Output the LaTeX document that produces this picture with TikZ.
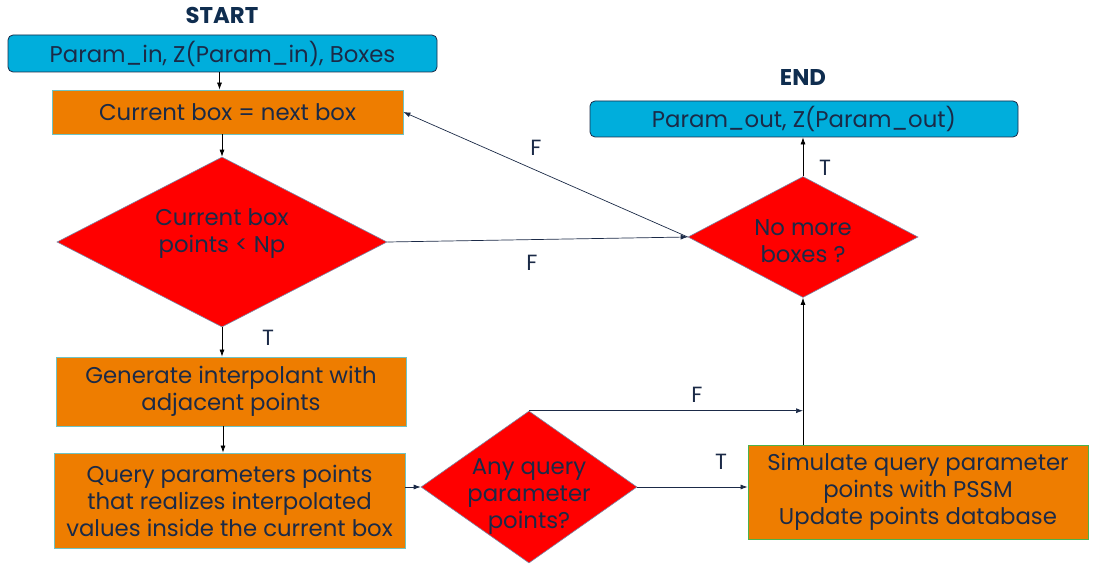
\documentclass[tikz,border=0pt]{standalone}
\usepackage{fontspec}
\setmainfont{Poppins}
\usetikzlibrary{shapes.geometric,arrows.meta}
\definecolor{cyanbox}{HTML}{00AEDC}
\definecolor{orangebox}{HTML}{EE7D00}
\definecolor{navy}{HTML}{1B2A47}
\definecolor{titlecol}{HTML}{0F2D4F}
\definecolor{dred}{HTML}{FF0000}
\definecolor{procborder}{HTML}{6FC3C3}
\definecolor{decborder}{HTML}{7A8AA8}
\begin{document}
\begin{tikzpicture}[x=1pt,y=1pt,
  every node/.style={text=navy},
  base/.style={font=\fontsize{22.8}{27}\selectfont},
  io/.style={base, draw=navy, fill=cyanbox, rounded corners=5pt, line width=0.8pt, inner sep=0},
  proc/.style={base, draw=procborder, fill=orangebox, line width=0.8pt, inner sep=0, align=center},
  dec/.style={diamond, draw=decborder, fill=dred, inner sep=0, line width=0.6pt},
  dectext/.style={base, align=center, inner sep=0},
  ttl/.style={font=\fontsize{22.8}{26}\selectfont\bfseries, text=titlecol},
  lbl/.style={font=\fontsize{22}{24}\selectfont},
  arr/.style={-{Latex[length=7pt,width=5pt]}, line width=0.7pt, draw=black},
  arrn/.style={arr, draw=navy}
]
\useasboundingbox (0,0) rectangle (1096,-567);

\node[ttl] (starttitle) at (222,-15) {START};
\node[io, minimum width=429, minimum height=37] (startbox) at (222.5,-53.5) {Param\_in, Z(Param\_in), Boxes};
\node[proc, minimum width=351, minimum height=44] (cur) at (227.5,-112) {Current box = next box};
\node[dec, minimum width=330, minimum height=170] (d1) at (222,-242) {};
\node[dectext] (d1t) at (222,-234) {Current box\\points < Np};
\node[dec, minimum width=230, minimum height=121] (d2) at (803,-237) {};
\node[dectext] (d2t) at (803,-241) {No more\\boxes ?};
\node[ttl] (endtitle) at (803,-77) {END};
\node[io, minimum width=428, minimum height=36] (endbox) at (804,-119) {Param\_out, Z(Param\_out)};
\node[proc, minimum width=350, minimum height=69] (gen) at (231,-391.5) {Generate interpolant with\\adjacent points};
\node[proc, minimum width=351, minimum height=95] (query) at (229.5,-500.5) {Query parameters points\\that realizes interpolated\\values inside the current box};
\node[dec, minimum width=216, minimum height=152] (d3) at (529,-487) {};
\node[dectext] (d3t) at (529,-497) {Any query\\parameter\\points?};
\node[proc, minimum width=340, minimum height=94, draw=gray!60!green] (sim) at (918,-492) {Simulate query parameter\\points with PSSM\\Update points database};

\draw[arr] ([xshift=-3]startbox.south) -- ([xshift=-3]startbox.south |- cur.north);
\draw[arr] (cur.south -| d1.north) -- (d1.north);
\draw[arrn] (d1.east) -- (d2.west);
\draw[arrn] (d2.west) -- (cur.east);
\draw[arr] (d2.north) -- (d2.north |- endbox.south);
\draw[arr] (d1.south) -- (d1.south |- gen.north);
\draw[arr] ([xshift=-8]gen.south) -- ([xshift=-8]gen.south |- query.north);
\draw[arrn] (query.east |- d3.west) -- (d3.west);
\draw[arrn] (d3.east) -- (d3.east -| sim.west);
\draw[arrn] (d3.north) -- (d3.north -| d2.south);
\draw[arr] (sim.north -| d2.south) -- (d2.south);

\node[lbl] (f1) at (532,-263) {F};
\node[lbl] (f2) at (536,-148) {F};
\node[lbl] (t1) at (825,-168) {T};
\node[lbl] (t2) at (268,-338) {T};
\node[lbl] (f3) at (697,-395) {F};
\node[lbl] (t3) at (721,-462) {T};
\end{tikzpicture}
\end{document}
